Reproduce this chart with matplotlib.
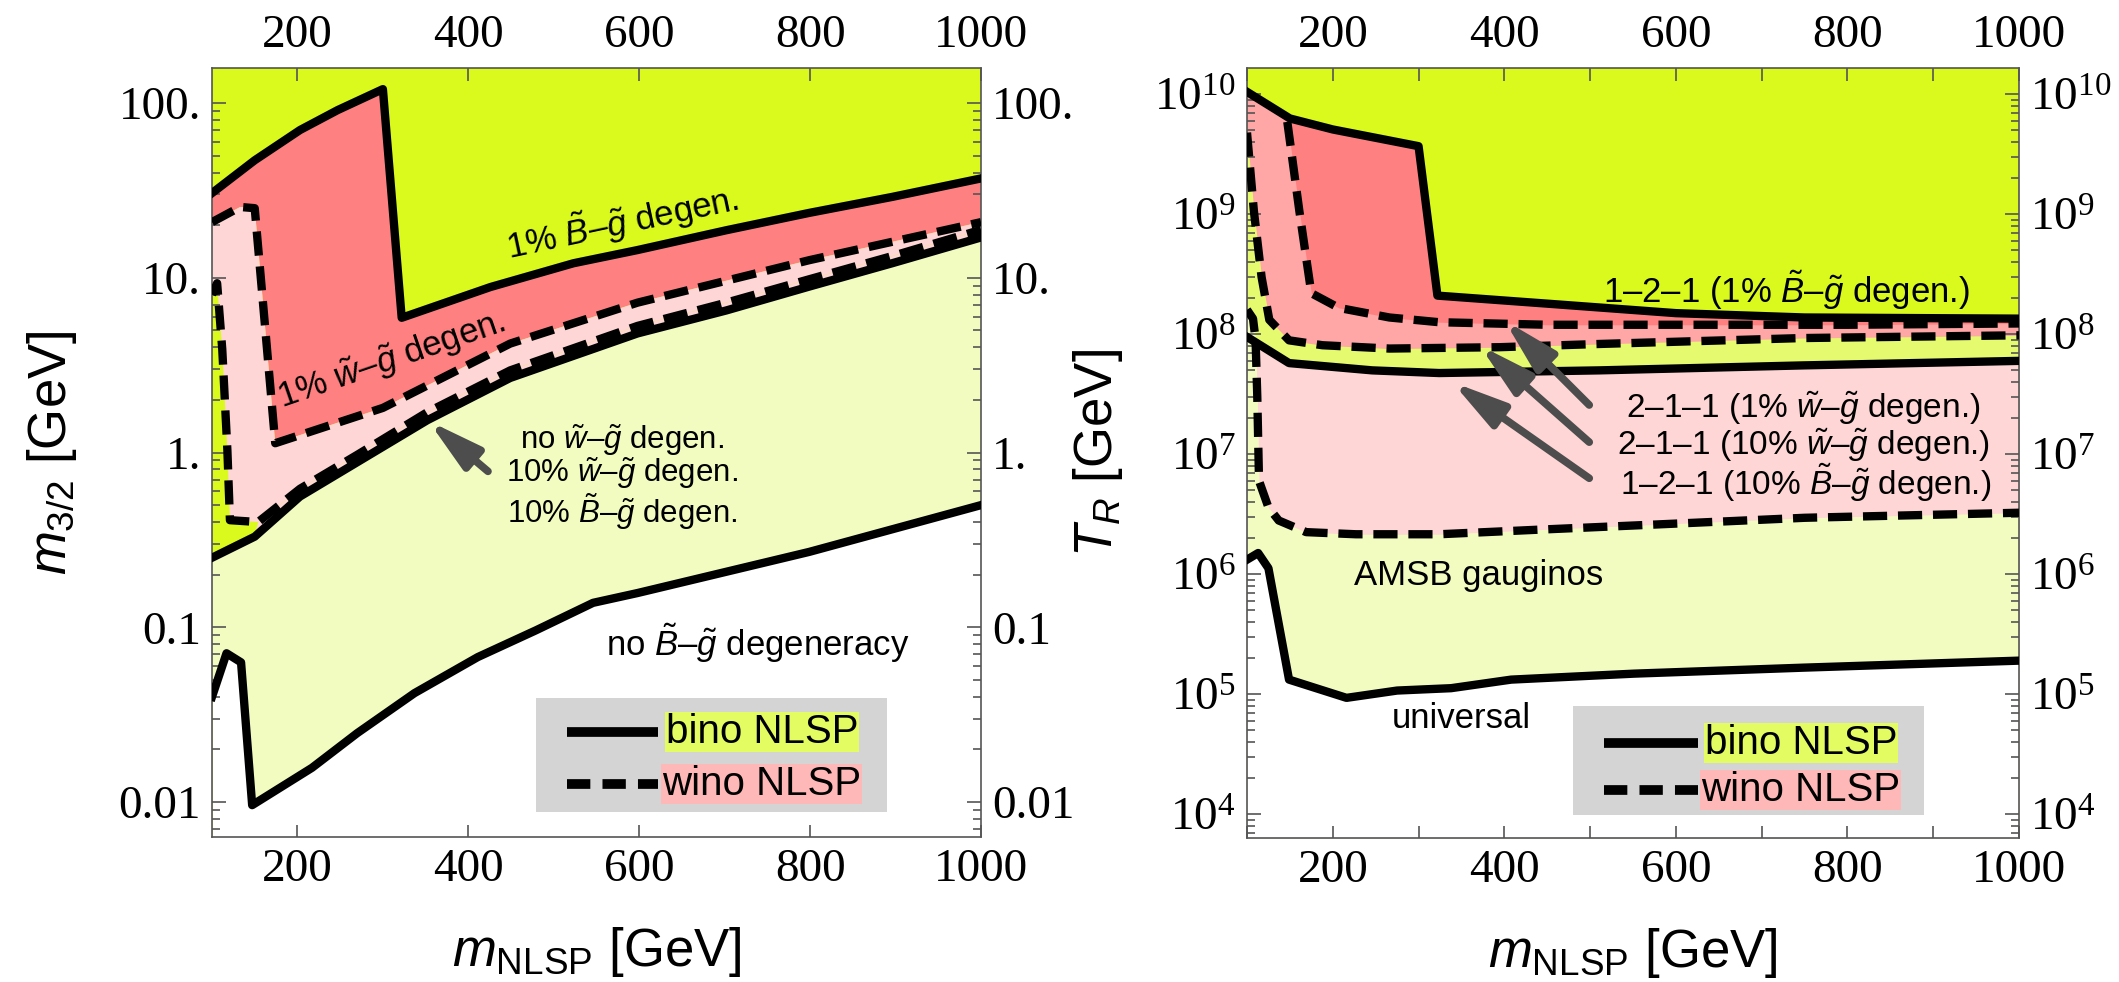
import matplotlib
matplotlib.use('Agg')
import matplotlib.pyplot as plt
from matplotlib import ticker
from matplotlib.patches import Rectangle
from matplotlib.lines import Line2D

plt.rcParams['font.family'] = ['Liberation Serif', 'DejaVu Serif']
plt.rcParams['mathtext.fontset'] = 'custom'
plt.rcParams['mathtext.rm'] = 'Liberation Sans'
plt.rcParams['mathtext.it'] = 'Liberation Sans:italic'
plt.rcParams['mathtext.bf'] = 'Liberation Sans:bold'

SANS = 'Liberation Sans'

# ---- left panel: gravitino mass bounds ----
m32_ticks = [0.01, 0.1, 1, 10, 100]
m32_ticklabels = ['0.01', '0.1', '1.', '10.', '100.']

m32_bino1_x = [100, 150, 203, 247, 300, 322, 426, 523, 598, 702, 799, 896, 1000]
m32_bino1 = [30.5, 47, 70, 91, 120, 5.9, 8.85, 12.1, 14.4, 18.7, 23.5, 29, 37]

m32_wino1_x = [100, 133, 150, 174, 300, 449, 598, 799, 1000]
m32_wino1 = [20.8, 25.4, 25, 1.13, 1.8, 4.2, 7.2, 12.6, 20.8]

m32_wino10_x = [100, 106, 112, 118, 121, 154, 203, 270, 352, 449, 598, 702, 799, 896, 1000]
m32_wino10 = [8.0, 9.3, 3.9, 1.03, 0.41, 0.40, 0.62, 0.97, 1.7, 2.95, 5.3, 7.2, 9.8, 13.3, 18.8]

m32_bino10_x = [100, 150, 203, 270, 352, 449, 598, 702, 799, 896, 1000]
m32_bino10 = [0.25, 0.33, 0.56, 0.88, 1.53, 2.67, 4.8, 6.5, 8.9, 12.1, 17]

m32_low_x = [100, 117, 134, 147, 217, 270, 337, 411, 479, 546, 598, 799, 1000]
m32_low = [0.04, 0.071, 0.063, 0.0096, 0.0157, 0.0248, 0.042, 0.0675, 0.096, 0.138, 0.157, 0.27, 0.50]

# ---- right panel: reheating temperature bounds ----
tr_ticks = [1e4, 1e5, 1e6, 1e7, 1e8, 1e9, 1e10]
tr_ticklabels = [r'$\mathregular{10^{%d}}$' % k for k in range(4, 11)]

tr_bino1_x = [100, 150, 200, 300, 322, 450, 600, 750, 1000]
tr_bino1 = [1.05e10, 6.3e9, 5.1e9, 3.7e9, 2.1e8, 1.8e8, 1.5e8, 1.38e8, 1.35e8]

tr_wino1_x = [147, 161, 175, 207, 266, 324, 450, 600, 800, 1000]
tr_wino1 = [5.9e9, 1.07e9, 2.2e8, 1.66e8, 1.38e8, 1.26e8, 1.2e8, 1.2e8, 1.2e8, 1.23e8]

tr_wino10_x = [100, 108, 117, 126, 149, 188, 266, 394, 511, 748, 1000]
tr_wino10 = [4.8e9, 1.07e9, 3.0e8, 1.32e8, 8.9e7, 8.1e7, 7.6e7, 7.8e7, 8.3e7, 9.3e7, 9.8e7]

tr_bino10_x = [100, 149, 246, 324, 511, 748, 1000]
tr_bino10 = [9.5e7, 5.75e7, 5.0e7, 4.75e7, 5.0e7, 5.5e7, 6.0e7]

tr_amsb_x = [100, 107, 110, 112, 114, 125, 137, 169, 227, 324, 441, 554, 750, 1000]
tr_amsb = [1.6e8, 1.35e8, 9e7, 3e7, 6e6, 3.6e6, 2.8e6, 2.24e6, 2.15e6, 2.15e6, 2.35e6, 2.55e6, 2.95e6, 3.25e6]

tr_univ_x = [100, 113, 125, 149, 216, 275, 338, 408, 551, 748, 1000]
tr_univ = [1.32e6, 1.5e6, 1.12e6, 1.32e5, 9.3e4, 1.07e5, 1.12e5, 1.32e5, 1.48e5, 1.66e5, 1.9e5]

# colours
BRIGHT = '#dafa1e'
SALMON = '#ff8080'
SALMON_LT = '#ffa6a6'
PINK = '#ffd6d6'
LIME_LT = '#e6fa70'
YELLOW_LT = '#f3fcc0'
ARROW = '#4d4d4d'

LW = 6
DASH = (0, (2.9, 1.3))
ARROWSTYLE = '-|>,head_length=1.0,head_width=0.26'


def style_axes(ax, ylim, yticks, yticklabels, xminor):
    ax.set_yscale('log')
    ax.set_xlim(100, 1000)
    ax.set_ylim(*ylim)
    ax.set_xticks([200, 400, 600, 800, 1000])
    ax.set_xticklabels(['200', '400', '600', '800', '1000'])
    if xminor:
        ax.xaxis.set_minor_locator(ticker.MultipleLocator(100))
    else:
        ax.xaxis.set_minor_locator(ticker.NullLocator())
    ax.set_yticks(yticks)
    ax.set_yticklabels(yticklabels)
    ax.yaxis.set_minor_locator(ticker.LogLocator(base=10, subs=range(2, 10), numticks=30))
    ax.yaxis.set_minor_formatter(ticker.NullFormatter())
    ax.tick_params(which='both', direction='in', top=True, right=True,
                   labeltop=True, labelright=True, color='#555555', width=1.2)
    ax.tick_params(axis='x', which='both', length=9, labelsize=34, pad=8)
    ax.tick_params(axis='y', which='major', length=10, labelsize=34, pad=8)
    ax.tick_params(axis='y', which='minor', length=5.5)
    for sp in ax.spines.values():
        sp.set_color('#555555')
        sp.set_linewidth(1.2)
    ax.set_xlabel(r'$m_{\mathrm{NLSP}}$ [GeV]', fontfamily=SANS, fontsize=38, va='center')
    ax.xaxis.set_label_coords(0.5, -0.149)


def draw_legend(ax, box, line_x, y_bino, y_wino, text_x):
    ax.add_patch(Rectangle((box[0], box[1]), box[2] - box[0], box[3] - box[1],
                           transform=ax.transAxes, facecolor='#d4d4d4',
                           edgecolor='none', zorder=5))
    ax.add_line(Line2D(line_x, [y_bino, y_bino], transform=ax.transAxes,
                       color='black', lw=7, solid_capstyle='butt', zorder=6))
    ax.add_line(Line2D(line_x, [y_wino, y_wino], transform=ax.transAxes,
                       color='black', lw=7, ls=(0, (2.4, 1.25)), zorder=6))
    ax.text(text_x, y_bino, 'bino NLSP', transform=ax.transAxes, fontfamily=SANS,
            fontsize=29, va='center', ha='left', zorder=7,
            bbox=dict(facecolor='#e3fc62', edgecolor='none', pad=0.5))
    ax.text(text_x - 0.005, y_wino, 'wino NLSP', transform=ax.transAxes, fontfamily=SANS,
            fontsize=29, va='center', ha='left', zorder=7,
            bbox=dict(facecolor='#ffb8b8', edgecolor='none', pad=0.5))


def draw_arrow(ax, tip, tail):
    ax.annotate('', xy=tip, xytext=tail,
                arrowprops=dict(arrowstyle=ARROWSTYLE, color=ARROW, lw=5.5,
                                mutation_scale=32, shrinkA=0, shrinkB=0), zorder=4)


def plot_gravitino_mass(ax):
    ylim = (10 ** -2.2, 10 ** 2.2)
    ax.set_facecolor(BRIGHT)
    ymin = ylim[0]

    # salmon band between the 1% bino line and the 1% wino line
    ax.fill(m32_bino1_x + m32_wino1_x[::-1], m32_bino1 + m32_wino1[::-1],
            color=SALMON, lw=0, zorder=1)
    # wino region between 1% and 10% wino lines
    ax.fill(m32_wino1_x + m32_wino10_x[::-1], m32_wino1 + m32_wino10[::-1],
            color=PINK, lw=0, zorder=1)
    # bino region between the lower curve and the 10% bino line
    ax.fill(m32_bino10_x + m32_low_x[::-1], m32_bino10 + m32_low[::-1],
            color=YELLOW_LT, lw=0, zorder=1)
    ax.fill(m32_bino10_x[1:] + m32_wino10_x[5:][::-1], m32_bino10[1:] + m32_wino10[5:][::-1],
            color=PINK, lw=0, zorder=1)
    ax.fill_between(m32_low_x, ymin, m32_low, color='white', lw=0, zorder=1)

    ax.plot(m32_bino1_x, m32_bino1, color='black', lw=LW, zorder=3)
    ax.plot(m32_wino1_x, m32_wino1, color='black', lw=LW, ls=DASH, zorder=3)
    ax.plot(m32_bino10_x, m32_bino10, color='black', lw=LW, zorder=3)
    ax.plot(m32_wino10_x, m32_wino10, color='black', lw=LW, ls=DASH, zorder=3)
    ax.plot(m32_low_x, m32_low, color='black', lw=LW, zorder=3)

    style_axes(ax, ylim, m32_ticks, m32_ticklabels, xminor=False)
    ax.set_ylabel(r'$m_{3/2}$ [GeV]', fontfamily=SANS, fontsize=38, va='center')
    ax.yaxis.set_label_coords(-0.208, 0.5)

    txt = dict(fontfamily=SANS, fontsize=25, ha='center', va='center', zorder=4)
    ax.text(580, 20.8, r'1% $\tilde{B}$–$\tilde{g}$ degen.', rotation=12, **txt)
    ax.text(310, 3.38, r'1% $\tilde{w}$–$\tilde{g}$ degen.', rotation=19, **txt)
    ax.text(739, 0.081, r'no $\tilde{B}$–$\tilde{g}$ degeneracy', **txt)
    stack = dict(txt, fontsize=22.5)
    ax.text(580, 1.18, r'no $\tilde{w}$–$\tilde{g}$ degen.', **stack)
    ax.text(580, 0.76, r'10% $\tilde{w}$–$\tilde{g}$ degen.', **stack)
    ax.text(580, 0.457, r'10% $\tilde{B}$–$\tilde{g}$ degen.', **stack)

    draw_arrow(ax, (353, 1.52), (423, 0.78))

    draw_legend(ax, (0.421, 0.0325, 0.878, 0.181), [0.4616, 0.5799], 0.1365, 0.0689, 0.590)


def plot_reheating(ax):
    ylim = (10 ** 3.8, 10 ** 10.22)
    ax.set_facecolor(BRIGHT)
    ymin = ylim[0]

    ax.fill_between(tr_bino1_x, ymin, tr_bino1, color=SALMON, lw=0, zorder=1)
    ax.fill_between([100] + tr_wino1_x, ymin, [tr_bino1[0]] + tr_wino1,
                    color=SALMON_LT, lw=0, zorder=1)
    ax.fill_between(tr_wino10_x, ymin, tr_wino10, color=LIME_LT, lw=0, zorder=1)
    ax.fill_between(tr_bino10_x, ymin, tr_bino10, color=PINK, lw=0, zorder=1)
    ax.fill_between(tr_amsb_x, ymin, tr_amsb, color=YELLOW_LT, lw=0, zorder=1)
    ax.fill_between(tr_univ_x, ymin, tr_univ, color='white', lw=0, zorder=1)

    ax.plot(tr_bino1_x, tr_bino1, color='black', lw=LW, zorder=3)
    ax.plot(tr_wino1_x, tr_wino1, color='black', lw=LW, ls=DASH, zorder=3)
    ax.plot(tr_wino10_x, tr_wino10, color='black', lw=LW, ls=DASH, zorder=3)
    ax.plot(tr_bino10_x, tr_bino10, color='black', lw=LW, zorder=3)
    ax.plot(tr_amsb_x, tr_amsb, color='black', lw=LW, ls=DASH, zorder=3)
    ax.plot(tr_univ_x, tr_univ, color='black', lw=LW, zorder=3)

    style_axes(ax, ylim, tr_ticks, tr_ticklabels, xminor=True)
    ax.set_ylabel(r'$T_R$ [GeV]', fontfamily=SANS, fontsize=38, va='center')
    ax.yaxis.set_label_coords(-0.193, 0.5)

    txt = dict(fontfamily=SANS, fontsize=25, ha='center', va='center', zorder=4)
    ax.text(729, 2.33e8, r'1–2–1 (1% $\tilde{B}$–$\tilde{g}$ degen.)', **txt)
    ax.text(370, 9.8e5, 'AMSB gauginos', **txt)
    ax.text(350, 6.3e4, 'universal', **txt)
    stack = dict(txt, fontsize=24)
    ax.text(749, 2.42e7, r'2–1–1 (1% $\tilde{w}$–$\tilde{g}$ degen.)', **stack)
    ax.text(749, 1.19e7, r'2–1–1 (10% $\tilde{w}$–$\tilde{g}$ degen.)', **stack)
    ax.text(751, 5.77e6, r'1–2–1 (10% $\tilde{B}$–$\tilde{g}$ degen.)', **stack)

    draw_arrow(ax, (400, 1.31e8), (499, 2.57e7))
    draw_arrow(ax, (371, 8.1e7), (499, 1.26e7))
    draw_arrow(ax, (339, 4.0e7), (499, 6.3e6))

    draw_legend(ax, (0.422, 0.030, 0.877, 0.171), [0.462, 0.584], 0.123, 0.062, 0.593)


if __name__ == '__main__':
    fig = plt.figure(figsize=(21.19, 9.82), dpi=100)
    ax1 = fig.add_axes([212 / 2119, 1 - 837 / 982, 769 / 2119, 769 / 982])
    ax2 = fig.add_axes([1247 / 2119, 1 - 838 / 982, 772 / 2119, 770 / 982])
    plot_gravitino_mass(ax1)
    plot_reheating(ax2)
    fig.savefig('out.png', dpi=100)
